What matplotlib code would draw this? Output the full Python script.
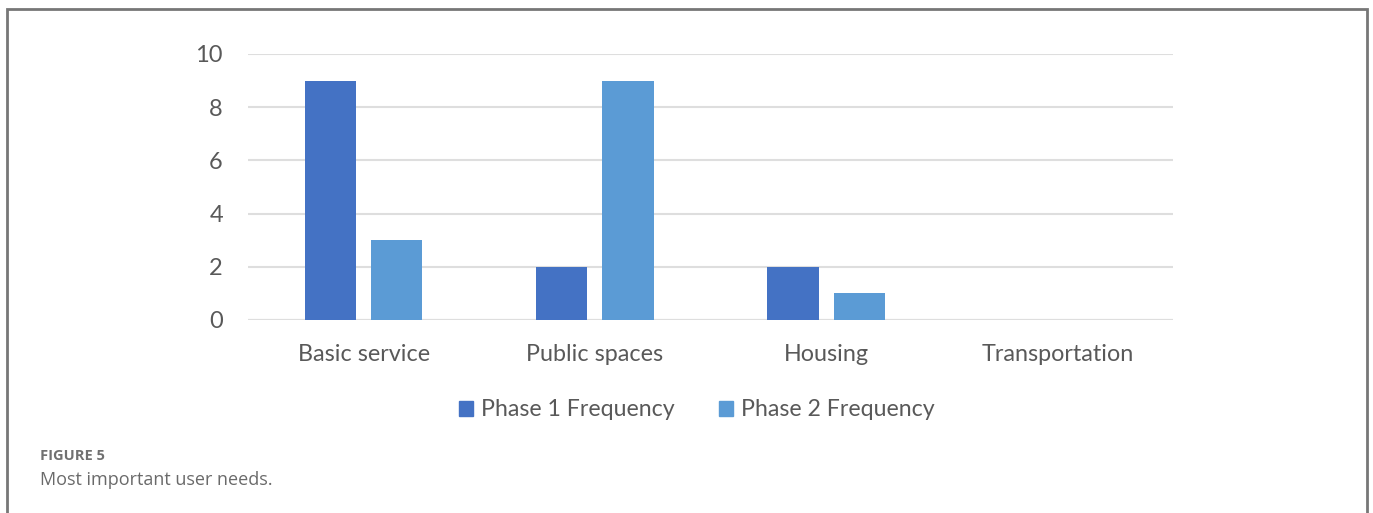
import matplotlib
matplotlib.use("Agg")
import matplotlib.pyplot as plt
import numpy as np
from matplotlib.patches import Rectangle, Patch

categories = ["Basic service", "Public spaces", "Housing", "Transportation"]
phase1 = [9, 2, 2, 0]
phase2 = [3, 9, 1, 0]
series_names = ["Phase 1 Frequency", "Phase 2 Frequency"]
yticks = [0, 2, 4, 6, 8, 10]

W, H = 1373, 513
fig = plt.figure(figsize=(W / 100, H / 100), dpi=100)
plt.rcParams['font.family'] = ['Lato', 'DejaVu Sans']
txt = '#595959'

def fx(px):
    return px / W

def fy(py):
    return 1 - py / H

ax = fig.add_axes([fx(248), fy(320), fx(1173) - fx(248), fy(54) - fy(320)])
x = np.arange(len(categories))
bw = 0.222
off = 0.143
c1, c2 = '#4472C4', '#5B9BD5'
ax.bar(x - off, phase1, bw, color=c1, zorder=3)
ax.bar(x + off, phase2, bw, color=c2, zorder=3)
ax.set_xlim(-0.5, len(categories) - 0.5)
ax.set_ylim(0, 10)
ax.set_yticks(yticks)
ax.set_yticklabels([str(t) for t in yticks])
ax.set_xticks(x)
ax.set_xticklabels(categories)
ax.yaxis.grid(True, color='#dedede', linewidth=1.5, zorder=0)
ax.set_axisbelow(True)
for s in ax.spines.values():
    s.set_visible(False)
ax.tick_params(axis='x', length=0, labelsize=16.8, colors=txt, pad=17)
ax.tick_params(axis='y', length=0, labelsize=17, colors=txt, pad=18)
ax.axhline(0, color='#dedede', linewidth=1.5, zorder=1)

handles = [Patch(color=c1), Patch(color=c2)]
fig.legend(handles, series_names, loc='center', bbox_to_anchor=(fx(697), fy(410)),
           ncol=2, frameon=False, fontsize=16.7, handlelength=0.6, handleheight=0.6,
           handletextpad=0.35, columnspacing=1.9, labelcolor=txt)

fig.text(fx(40), fy(456), "FIGURE 5", fontsize=10.5, fontweight='bold', color='#707070',
         va='center', family=['Open Sans', 'DejaVu Sans'])
fig.text(fx(40), fy(480), "Most important user needs.", fontsize=13, color='#6a6a6a',
         va='center', family=['Open Sans', 'DejaVu Sans'])

fig.patches.append(Rectangle((fx(7), -0.1), fx(1367) - fx(7), fy(9) + 0.1, transform=fig.transFigure,
                             fill=False, edgecolor='#777777', linewidth=2, clip_on=False))

fig.savefig("out.png", dpi=100)
